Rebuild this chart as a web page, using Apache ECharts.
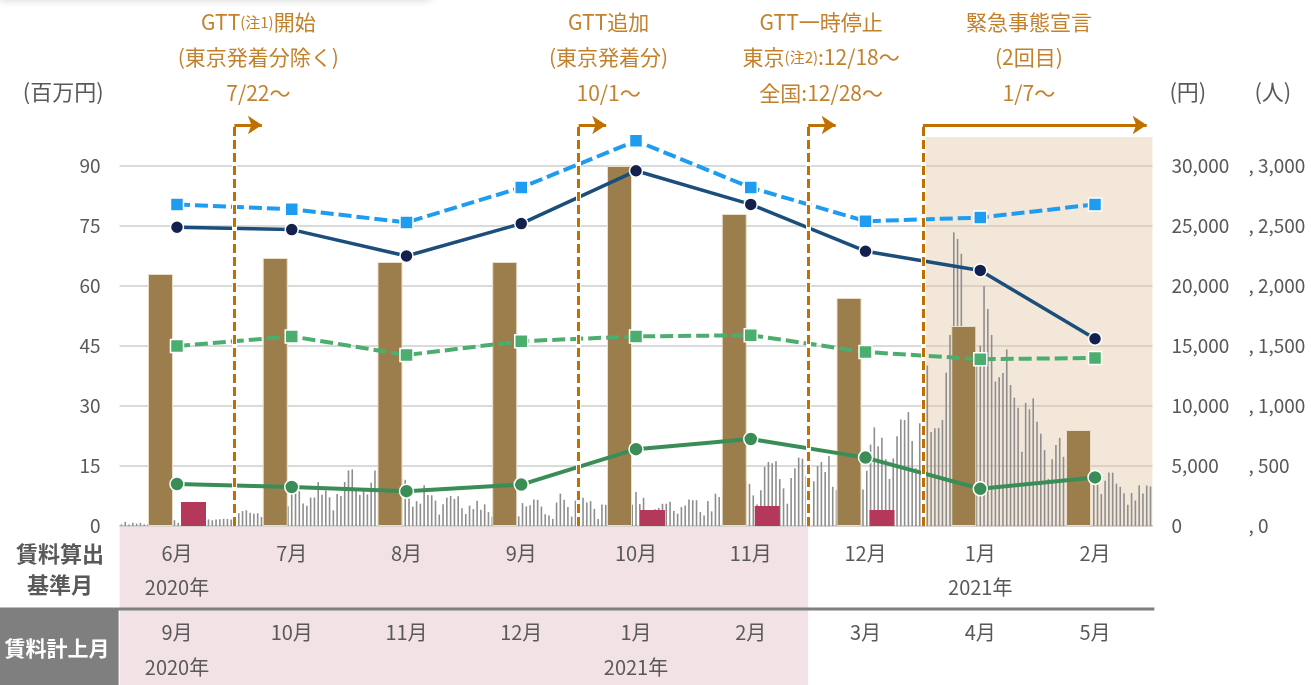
<!DOCTYPE html>
<html>
<head>
<meta charset="utf-8">
<script src="https://cdn.jsdelivr.net/npm/echarts@6/dist/echarts.min.js"></script>
<style>
  html, body { margin: 0; padding: 0; background: #fff; }
  #main { width: 1311px; height: 685px; }
</style>
</head>
<body>
<div id="main"></div>
<script>
// 賃料算出基準月 / 賃料計上月
const categories = ['6月', '7月', '8月', '9月', '10月', '11月', '12月', '1月', '2月'];
const baseYears = ['2020年', '', '', '', '', '', '', '2021年', ''];
const billingMonths = ['9月', '10月', '11月', '12月', '1月', '2月', '3月', '4月', '5月'];
const billingYears = ['2020年', '', '', '', '2021年', '', '', '', ''];

// 百万円
const revenue = [63, 67, 66, 66, 90, 78, 57, 50, 24];
const refund = [6, null, null, null, 4, 5, 4, null, null];

// 円
const priceBlue = [26800, 26400, 25300, 28200, 32100, 28200, 25400, 25700, 26800];
const priceNavy = [24900, 24700, 22500, 25200, 29600, 26800, 22900, 21300, 15600];
const priceGreen = [15000, 15800, 14250, 15400, 15800, 15900, 14500, 13900, 14000];
const priceDark = [3500, 3250, 2900, 3450, 6400, 7250, 5700, 3100, 4050];

// 人 (日次 2020/6/1 - 2021/2/28)
const casesJun = [13, 34, 12, 28, 20, 26, 14, 13, 12, 18, 22, 25, 24, 47, 48, 27, 16, 41, 35, 39, 35, 29, 31, 55, 48, 54, 57, 60, 58, 54];
const casesJul = [67, 107, 124, 131, 111, 102, 106, 75, 224, 243, 206, 206, 119, 143, 165, 286, 293, 290, 188, 168, 237, 238, 366, 260, 295, 239, 131, 266, 250, 367, 463];
const casesAug = [472, 292, 258, 309, 263, 360, 462, 429, 331, 197, 188, 222, 206, 389, 385, 260, 161, 207, 186, 339, 258, 256, 212, 95, 182, 236, 250, 226, 247, 148, 100];
const casesSep = [170, 141, 211, 136, 181, 116, 77, 170, 149, 276, 187, 146, 146, 80, 191, 163, 172, 220, 218, 162, 98, 88, 59, 195, 270, 218, 158, 78, 212, 194];
const casesOct = [235, 196, 207, 143, 59, 179, 177, 172, 187, 248, 146, 78, 166, 177, 284, 184, 235, 78, 132, 139, 150, 185, 186, 203, 124, 102, 158, 171, 221, 215, 215];
const casesNov = [116, 87, 209, 122, 269, 242, 294, 189, 157, 293, 317, 393, 374, 352, 255, 180, 298, 493, 534, 522, 539, 391, 314, 186, 401, 481, 570, 561, 418, 311];
const casesDec = [372, 500, 533, 449, 584, 327, 299, 352, 572, 602, 595, 621, 480, 305, 460, 678, 822, 664, 736, 556, 392, 563, 748, 888, 884, 949, 708, 481, 856, 944, 1337];
const casesJan = [783, 814, 816, 884, 1278, 1591, 2447, 2392, 2268, 1494, 1219, 970, 1433, 1502, 2001, 1809, 1592, 1204, 1240, 1274, 1471, 1175, 1070, 986, 618, 1026, 973, 1064, 868, 769, 633];
const casesFeb = [393, 556, 676, 734, 577, 639, 429, 276, 412, 434, 377, 307, 369, 371, 266, 378, 445, 445, 353, 327, 272, 178, 275, 213, 340, 270, 337, 329];

// イベント (月の区切り位置)
const eventStarts = [1, 4, 6, 7];
const arrowEnds = [1.24, 4.24, 6.24, 8.95];
const eventTexts = [
  ['GTT{s|(注1)}開始', '(東京発着分除く)', '7/22～'],
  ['GTT追加', '(東京発着分)', '10/1～'],
  ['GTT一時停止', '東京{s|(注2)}:12/18～', '全国:12/28～'],
  ['緊急事態宣言', '(2回目)', '1/7～']
];
const eventTextShift = [24, 30, 13, 106];

const dailyCases = [].concat(casesJun, casesJul, casesAug, casesSep, casesOct, casesNov, casesDec, casesJan, casesFeb);
const days = [];
const d0 = new Date(2020, 5, 1);
for (let i = 0; i < dailyCases.length; i++) {
  const d = new Date(d0.getTime() + i * 86400000);
  days.push(d.getFullYear() + '/' + (d.getMonth() + 1) + '/' + d.getDate());
}

const FONT = "'Noto Sans CJK JP', sans-serif";
const GREY = '#595959';
const ORANGE = '#bf7000';
const leftMax = 100.75;
const shadeTop = 97.25;
const arrowY = 100.25;

const chart = echarts.init(document.getElementById('main'));

const hiddenCat = (data, offset, extra) => Object.assign({
  type: 'category',
  data: data,
  position: 'bottom',
  offset: offset,
  axisLine: { show: false },
  axisTick: { show: false },
  splitLine: { show: false },
  axisLabel: { interval: 0, margin: 17, fontSize: 20, color: GREY, fontFamily: FONT }
}, extra || {});

const vLines = [];
eventStarts.forEach(v => vLines.push({ xAxis: v, lineStyle: { color: '#fff', width: 5, type: 'solid' } }));
eventStarts.forEach(v => vLines.push({ xAxis: v, lineStyle: { color: ORANGE, width: 3, type: [9, 4] } }));
eventStarts.forEach((v, i) => vLines.push([
  { coord: [v, arrowY], symbol: 'none' },
  { coord: [arrowEnds[i], arrowY], symbol: 'arrow', symbolSize: 14, lineStyle: { color: ORANGE, width: 3, type: 'solid' } }
]));

const option = {
  animation: false,
  textStyle: { fontFamily: FONT },
  grid: { left: 119.6, right: 158.6, top: 123, bottom: 159 },
  xAxis: [
    {
      type: 'category',
      data: categories,
      position: 'bottom',
      axisLine: { show: true, lineStyle: { color: '#d6cfcf', type: 'dotted', width: 1.5 } },
      axisTick: { show: false },
      axisLabel: { interval: 0, margin: 17, fontSize: 20, color: GREY, fontFamily: FONT }
    },
    { type: 'category', data: days, show: false },
    { type: 'value', min: 0, max: 9, show: false },
    hiddenCat(baseYears, 34),
    hiddenCat(billingMonths, 79),
    hiddenCat(billingYears, 114)
  ],
  yAxis: [
    {
      type: 'value', min: 0, max: leftMax, interval: 15,
      name: '(百万円)', nameLocation: 'end', nameGap: 20,
      nameTextStyle: { color: GREY, fontSize: 22, align: 'right', padding: [0, 16, 0, 0], fontFamily: FONT },
      axisLine: { show: false }, axisTick: { show: false },
      axisLabel: { color: GREY, fontSize: 19, margin: 19, showMaxLabel: false, fontFamily: FONT },
      splitLine: { showMaxLine: false, lineStyle: { color: '#dadada', width: 2 } }
    },
    {
      type: 'value', min: 0, max: leftMax * 1000 / 3, interval: 5000, position: 'right',
      name: '(円)', nameLocation: 'end', nameGap: 20,
      nameTextStyle: { color: GREY, fontSize: 22, align: 'left', padding: [0, 0, 0, 17], fontFamily: FONT },
      axisLine: { show: false }, axisTick: { show: false }, splitLine: { show: false },
      axisLabel: {
        color: GREY, fontSize: 19, margin: 19, showMaxLabel: false, align: 'left', fontFamily: FONT,
        formatter: v => v.toLocaleString('en-US')
      }
    },
    {
      type: 'value', min: 0, max: leftMax * 100 / 3, interval: 500, position: 'right', offset: 77,
      name: '(人)', nameLocation: 'end', nameGap: 20,
      nameTextStyle: { color: GREY, fontSize: 22, align: 'left', padding: [0, 0, 0, 25], fontFamily: FONT },
      axisLine: { show: false }, axisTick: { show: false }, splitLine: { show: false },
      axisLabel: {
        color: GREY, fontSize: 19, margin: 19, showMaxLabel: false, align: 'left', fontFamily: FONT,
        formatter: v => ', ' + v.toLocaleString('en-US')
      }
    }
  ],
  series: [
    {
      name: '新規陽性者数',
      type: 'bar',
      xAxisIndex: 1, yAxisIndex: 2,
      data: dailyCases,
      barWidth: 1.6,
      itemStyle: { color: '#8e8e8e' },
      silent: true,
      z: 1
    },
    {
      name: 'shade',
      type: 'line',
      xAxisIndex: 2, yAxisIndex: 0,
      data: [],
      clip: false,
      silent: true,
      z: 2,
      markArea: {
        silent: true,
        itemStyle: { color: 'rgba(225,195,160,0.4)' },
        data: [[{ coord: [7, 0] }, { coord: [9, shadeTop] }]]
      }
    },
    {
      name: '売上',
      type: 'bar',
      data: revenue,
      barWidth: 25,
      barGap: '32%',
      itemStyle: { color: '#9b7e4c', borderColor: '#eadfcb', borderWidth: 1 },
      z: 3
    },
    {
      name: '割引',
      type: 'bar',
      data: refund,
      barWidth: 25,
      itemStyle: { color: '#b3385a' },
      z: 3
    },
    {
      name: '単価A',
      type: 'line', yAxisIndex: 1,
      data: priceBlue,
      symbol: 'rect', symbolSize: 13,
      lineStyle: { color: '#1e9cf0', width: 4, type: [13, 5] },
      itemStyle: { color: '#1e9cf0', borderColor: '#fff', borderWidth: 1.5 },
      z: 4
    },
    {
      name: '単価B',
      type: 'line', yAxisIndex: 1,
      data: priceNavy,
      symbol: 'circle', symbolSize: 13,
      lineStyle: { color: '#1b4e7b', width: 3.5 },
      itemStyle: { color: '#14214f', borderColor: '#fff', borderWidth: 1.5 },
      z: 4
    },
    {
      name: '単価C',
      type: 'line', yAxisIndex: 1,
      data: priceGreen,
      symbol: 'rect', symbolSize: 13,
      lineStyle: { color: '#4cae6e', width: 4, type: [13, 5] },
      itemStyle: { color: '#4cae6e', borderColor: '#fff', borderWidth: 1.5 },
      z: 4
    },
    {
      name: '単価D',
      type: 'line', yAxisIndex: 1,
      data: priceDark,
      symbol: 'circle', symbolSize: 14,
      lineStyle: { color: '#3a8d57', width: 4 },
      itemStyle: { color: '#3a8d57', borderColor: '#fff', borderWidth: 1.5 },
      z: 4
    },
    {
      name: 'events',
      type: 'line',
      xAxisIndex: 2, yAxisIndex: 0,
      data: [],
      clip: false,
      silent: true,
      z: 5,
      markLine: {
        silent: true,
        symbol: 'none',
        label: { show: false },
        data: vLines
      }
    }
  ]
};

chart.setOption(option);

// 表部分と注記
const px = v => chart.convertToPixel({ xAxisIndex: 2 }, v);
const baseY = chart.convertToPixel({ yAxisIndex: 0 }, 0);
const rowLine = baseY + 83;
const graphics = [
  { type: 'rect', z: 20, shape: { x: 0, y: -20, width: 430, height: 20 }, style: { fill: '#fff', shadowBlur: 8, shadowColor: 'rgba(0,0,0,0.18)' } },
  { type: 'rect', z: -5, shape: { x: px(0), y: baseY + 1, width: px(6) - px(0), height: 685 - baseY }, style: { fill: '#f2e1e5' } },
  { type: 'rect', z: -5, shape: { x: 0, y: rowLine, width: px(0) - 1, height: 685 - rowLine }, style: { fill: '#7f7f7f' } },
  { type: 'line', z: 5, shape: { x1: 0, y1: rowLine, x2: px(9) + 2, y2: rowLine }, style: { stroke: '#7f7f7f', lineWidth: 3 } },
  { type: 'text', z: 10, x: 60, y: baseY + 28, style: { text: '賃料算出', fill: GREY, font: 'bold 22px ' + FONT, textAlign: 'center', textVerticalAlign: 'middle' } },
  { type: 'text', z: 10, x: 60, y: baseY + 59, style: { text: '基準月', fill: GREY, font: 'bold 22px ' + FONT, textAlign: 'center', textVerticalAlign: 'middle' } },
  { type: 'text', z: 10, x: 57, y: rowLine + 39, style: { text: '賃料計上月', fill: '#fff', font: 'bold 21px ' + FONT, textAlign: 'center', textVerticalAlign: 'middle' } }
];
eventTexts.forEach((lines, i) => {
  lines.forEach((t, j) => {
    graphics.push({
      type: 'text', z: 10,
      x: px(eventStarts[i]) + eventTextShift[i],
      y: 22 + j * 35.5,
      style: {
        text: t, fill: '#c4812c', font: '21px ' + FONT,
        textAlign: 'center', textVerticalAlign: 'middle',
        rich: { s: { fontSize: 15, fill: '#c4812c', fontFamily: FONT } }
      }
    });
  });
});
chart.setOption({ graphic: graphics });
</script>
</body>
</html>
